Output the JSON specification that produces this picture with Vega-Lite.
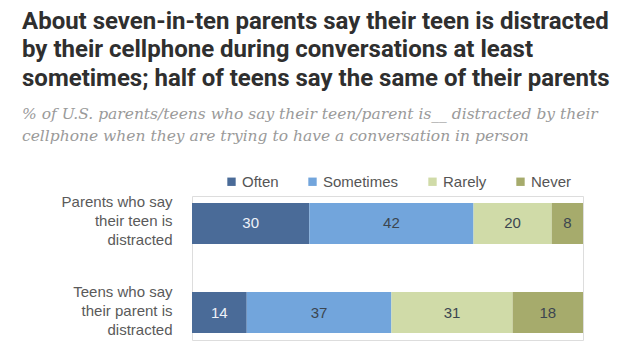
{
  "$schema": "https://vega.github.io/schema/vega-lite/v6.json",
  "width": 391,
  "height": 144,
  "autosize": {"type": "none"},
  "padding": {"left": 192, "top": 196, "right": 52, "bottom": 17},
  "background": "white",
  "title": {
    "text": ["About seven-in-ten parents say their teen is distracted", "by their cellphone during conversations at least", "sometimes; half of teens say the same of their parents"],
    "subtitle": ["% of U.S. parents/teens who say their teen/parent is__ distracted by their", "cellphone when they are trying to have a conversation in person"],
    "anchor": "start",
    "frame": "group",
    "dx": -170,
    "font": "Roboto",
    "fontWeight": "bold",
    "fontSize": 24,
    "color": "#2f2f2f",
    "lineHeight": 28.5,
    "subtitleFont": "DejaVu Serif",
    "subtitleFontStyle": "italic",
    "subtitleFontSize": 15.5,
    "subtitleColor": "#9a9a9a",
    "subtitleLineHeight": 22,
    "subtitlePadding": 16,
    "offset": 30
  },
  "data": {
    "values": [
      {"group": "Parents who say|their teen is|distracted", "response": "Often", "order": 1, "value": 30},
      {"group": "Parents who say|their teen is|distracted", "response": "Sometimes", "order": 2, "value": 42},
      {"group": "Parents who say|their teen is|distracted", "response": "Rarely", "order": 3, "value": 20},
      {"group": "Parents who say|their teen is|distracted", "response": "Never", "order": 4, "value": 8},
      {"group": "Teens who say|their parent is|distracted", "response": "Often", "order": 1, "value": 14},
      {"group": "Teens who say|their parent is|distracted", "response": "Sometimes", "order": 2, "value": 37},
      {"group": "Teens who say|their parent is|distracted", "response": "Rarely", "order": 3, "value": 31},
      {"group": "Teens who say|their parent is|distracted", "response": "Never", "order": 4, "value": 18}
    ]
  },
  "encoding": {
    "y": {
      "field": "group",
      "type": "nominal",
      "sort": null,
      "scale": {"paddingInner": 0.539, "paddingOuter": 0.078},
      "axis": {
        "title": null,
        "domain": false,
        "ticks": false,
        "labelExpr": "split(datum.label, '|')",
        "labelFont": "Liberation Sans",
        "labelFontSize": 15,
        "labelColor": "#5a5a5a",
        "labelPadding": 20,
        "labelLineHeight": 19,
        "labelAlign": "right",
        "labelBaseline": "middle",
        "labelOffset": -21
      }
    },
    "x": {
      "field": "value",
      "type": "quantitative",
      "stack": "zero",
      "scale": {"domain": [0, 100], "nice": false},
      "axis": null
    },
    "order": {"field": "order", "type": "quantitative"}
  },
  "layer": [
    {
      "mark": {"type": "bar"},
      "encoding": {
        "color": {
          "field": "response",
          "type": "nominal",
          "scale": {
            "domain": ["Often", "Sometimes", "Rarely", "Never"],
            "range": ["#4a6b98", "#72a5dc", "#d0dba8", "#a6ab6c"]
          },
          "legend": {
            "title": null,
            "orient": "none",
            "direction": "horizontal",
            "legendX": 32,
            "legendY": -22,
            "symbolType": "square",
            "symbolSize": 70,
            "symbolStrokeWidth": 0,
            "labelFont": "Liberation Sans",
            "labelFontSize": 15,
            "labelColor": "#555555",
            "labelOffset": 3,
            "columnPadding": 26
          }
        }
      }
    },
    {
      "mark": {"type": "text", "font": "Liberation Sans", "fontSize": 15, "baseline": "middle", "align": "center"},
      "encoding": {
        "x": {"field": "value", "type": "quantitative", "stack": "zero", "bandPosition": 0.5},
        "detail": {"field": "response"},
        "text": {"field": "value", "type": "quantitative"},
        "color": {
          "condition": {"test": "datum.response === 'Often'", "value": "#eef2f8"},
          "value": "#3c4650"
        }
      }
    }
  ]
}
